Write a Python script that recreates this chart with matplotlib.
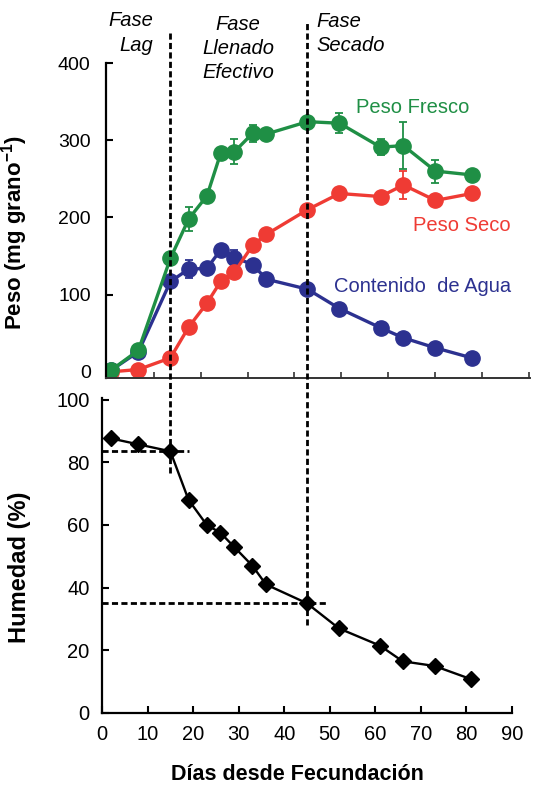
import numpy as np
import matplotlib
matplotlib.use("Agg")
import matplotlib.pyplot as plt

plt.rcParams["font.family"] = ["Liberation Sans", "DejaVu Sans"]

# datos
dias = [2, 8, 15, 19, 23, 26, 29, 33, 36, 45, 52, 61, 66, 73, 81]
peso_fresco = [2, 28, 147, 198, 228, 283, 285, 309, 308, 324, 322, 291, 293, 260, 255]
peso_fresco_err = [0, 0, 0, 15, 0, 0, 16, 11, 0, 6, 13, 10, 30, 15, 0]
peso_seco = [0, 3, 18, 58, 89, 117, 129, 164, 178, 210, 231, 227, 242, 222, 231]
peso_seco_err = [0, 0, 0, 0, 0, 0, 0, 0, 0, 0, 0, 0, 18, 0, 0]
agua = [2, 26, 117, 133, 134, 158, 148, 139, 120, 107, 82, 57, 44, 31, 18]
agua_err = [0, 0, 0, 12, 0, 0, 10, 0, 0, 0, 0, 7, 0, 0, 0]
humedad = [87.6, 85.7, 83.5, 68, 60, 57.5, 53, 47, 41, 35, 27, 21.5, 16.5, 15, 10.8]
fases = [15, 45]  # límites Lag / Llenado / Secado

verde = "#1f8f45"
rojo = "#ef3b34"
azul = "#2c3190"

fig = plt.figure(figsize=(5.4, 7.87), dpi=100)
W, H = 540, 787


def px_axes(left, right, top, bottom):
    return fig.add_axes([left / W, 1 - bottom / H, (right - left) / W, (bottom - top) / H])


ax1 = px_axes(106, 530, 63, 378)
ax2 = px_axes(102, 512, 398, 713)

# ---- panel superior: peso
for y, err, c in [(agua, agua_err, azul), (peso_seco, peso_seco_err, rojo),
                  (peso_fresco, peso_fresco_err, verde)]:
    ax1.errorbar(dias, y, yerr=err, color=c, lw=2.4, marker="o", ms=11,
                 mfc=c, mec=c, elinewidth=1.3, capsize=3, capthick=1.3)

ax1.set_xlim(0.9, 93.7)
ax1.set_ylim(-8, 400)
ax1.set_yticks([0, 100, 200, 300, 400])
# el eje x del panel superior tiene otra escala en el original
ax1.set_xticks((np.arange(10, 100, 10) * 4.69 + 5) / 4.57)
ax1.set_xticklabels([])
ax1.spines[["top", "right"]].set_visible(False)
ax1.spines["left"].set_linewidth(1.6)
ax1.spines["bottom"].set_linewidth(1.4)
ax1.spines["bottom"].set_color("#333333")
ax1.tick_params(axis="y", direction="in", length=5, width=1.5, labelsize=14, pad=11)
ax1.tick_params(axis="x", direction="in", length=4, width=1.2, colors="#333333")
ax1.set_ylabel("Peso (mg grano$^{\\mathregular{-1}}$)", fontsize=16, fontweight="bold")
ax1.yaxis.set_label_coords(-0.179, 0.463)

ax1.text(68, 342, "Peso Fresco", color=verde, fontsize=14.5, ha="center", va="center")
ax1.text(78.8, 189, "Peso Seco", color=rojo, fontsize=14.5, ha="center", va="center")
ax1.text(70.2, 110, "Contenido  de Agua", color=azul, fontsize=14.5, ha="center", va="center")

kw = dict(fontsize=14.5, style="italic", va="center", linespacing=1.35)
ax1.text(11.2, 439, "Fase\nLag", ha="right", multialignment="right", **kw)
ax1.text(29.8, 419, "Fase\nLlenado\nEfectivo", ha="center", multialignment="center", **kw)
ax1.text(47, 438, "Fase\nSecado", ha="left", multialignment="left", **kw)

dash = dict(color="black", lw=2, ls=(0, (2.2, 1.2)), clip_on=False, zorder=5)
ax1.axvline(fases[0], ymin=-0.063, ymax=1.105, **dash)
ax1.axvline(fases[1], ymin=-0.063, ymax=1.127, **dash)

# ---- panel inferior: humedad
ax2.plot(dias, humedad, color="black", lw=1.7, marker="D", ms=8, zorder=4)
ax2.set_xlim(0, 90)
ax2.set_ylim(0, 100.5)
ax2.set_xticks(range(0, 100, 10))
ax2.set_yticks(range(0, 101, 20))
ax2.spines[["top", "right"]].set_visible(False)
ax2.spines[["left", "bottom"]].set_linewidth(1.6)
ax2.tick_params(direction="in", length=5, width=1.5, labelsize=14.5)
ax2.tick_params(axis="y", pad=9)
ax2.tick_params(axis="x", pad=9)

i_lag = dias.index(fases[0])
i_sec = dias.index(fases[1])
ax2.axvline(fases[0], ymin=76.5 / 100.5, ymax=1, **dash)
ax2.axvline(fases[1], ymin=28 / 100.5, ymax=1, **dash)
ax2.axhline(humedad[i_lag], xmin=0, xmax=19 / 90, **dash)
ax2.axhline(humedad[i_sec], xmin=0, xmax=49.6 / 90, **dash)

ax2.set_ylabel("Humedad (%)", fontsize=17, fontweight="bold")
ax2.yaxis.set_label_coords(-0.173, 0.463)
ax2.set_xlabel("Días desde Fecundación", fontsize=15.5, fontweight="bold")
ax2.xaxis.set_label_coords(0.476, -0.163)

fig.savefig("out.png", dpi=100)
